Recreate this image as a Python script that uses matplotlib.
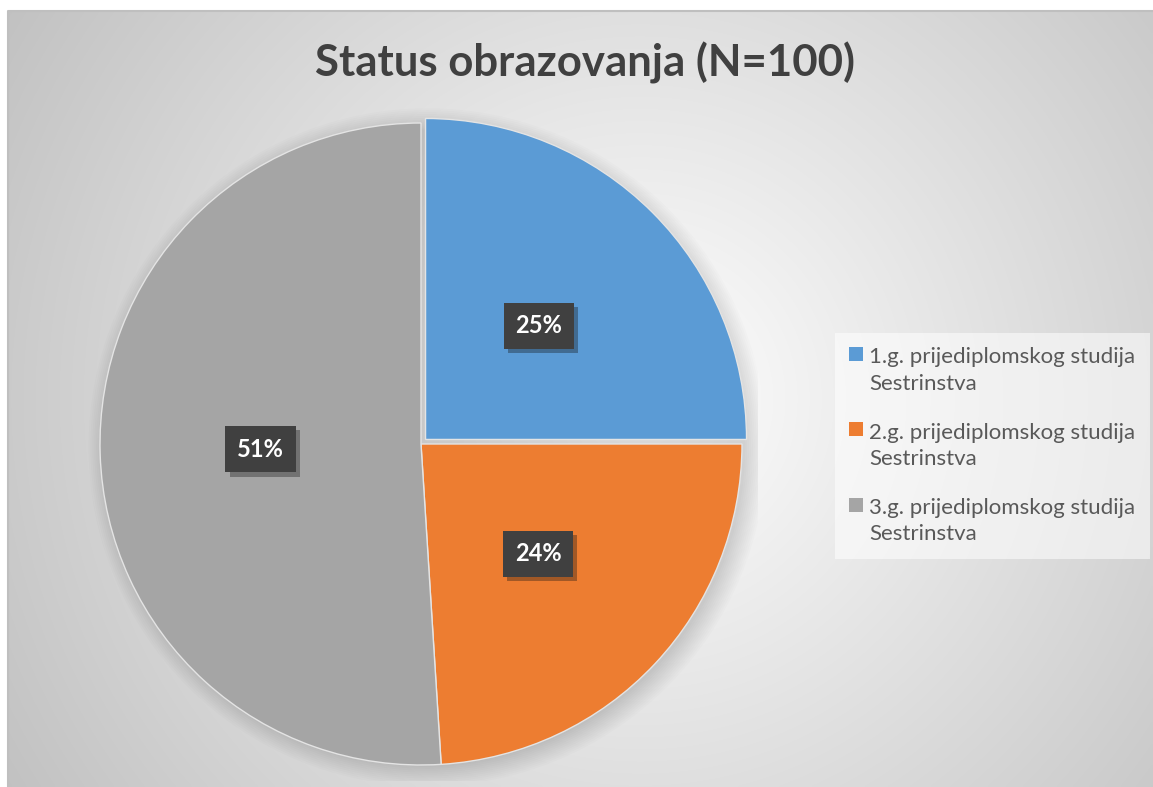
import numpy as np
import matplotlib
matplotlib.use("Agg")
import matplotlib.pyplot as plt
from matplotlib.patches import Rectangle, Circle
from matplotlib.legend_handler import HandlerPatch
import matplotlib.patheffects as pe

plt.rcParams['font.family'] = ['Lato', 'DejaVu Sans']

# podaci
kategorije = ["1.g. prijediplomskog studija\nSestrinstva",
              "2.g. prijediplomskog studija\nSestrinstva",
              "3.g. prijediplomskog studija\nSestrinstva"]
vrijednosti = [25, 24, 51]
boje = ['#5B9BD5', '#ED7D31', '#A5A5A5']
naslov = "Status obrazovanja (N=100)"

W, H = 1153, 787
fig = plt.figure(figsize=(W / 100, H / 100), dpi=100)

# pozadina s radijalnim gradijentom
bg = fig.add_axes([0, 0, 1, 1])
bg.set_xlim(0, W)
bg.set_ylim(H, 0)
bg.axis('off')
x0, x1, y0, y1 = 8, W, 11, H
xx, yy = np.meshgrid(np.linspace(x0, x1, 400), np.linspace(y0, y1, 300))
cx, cy = (x0 + x1) / 2 + 60, (y0 + y1) / 2
d = np.sqrt((xx - cx) ** 2 + (yy - cy) ** 2)
t = d / d.max()
c = 1 - 0.24 * t
img = np.dstack([c, c, c])
bg.imshow(img, extent=(x0, x1, y1, y0), aspect='auto', interpolation='bilinear')
bg.plot([x0, x0, x1], [y1, y0, y0], color='#bfbfbf', lw=1.5)

fig.text(585 / W, 1 - 63 / H, naslov, ha='center', va='center',
         fontsize=31.5, fontweight='bold', color='#404040')

# pita
r_px = 321
cxp, cyp = 421, 444
lim = 1.05
ax = fig.add_axes([(cxp - lim * r_px) / W, (H - cyp - lim * r_px) / H,
                   2 * lim * r_px / W, 2 * lim * r_px / H])

# meka sjena
for i in range(12):
    ax.add_patch(Circle((0.02, -0.01), 0.99 + 0.006 * i, color='k',
                        alpha=0.012, lw=0, zorder=0))

wedges, texts, autotexts = ax.pie(
    vrijednosti, colors=boje, startangle=90, counterclock=False,
    explode=[0.02, 0, 0], autopct=lambda p: f'{p:.0f}%', pctdistance=0.5,
    wedgeprops=dict(edgecolor='#e4e4e4', linewidth=1.0),
    textprops=dict(color='white', fontsize=17, fontweight='bold'),
    frame=True)
ax.set_xlim(-lim, lim)
ax.set_ylim(-lim, lim)
ax.axis('off')
for w in wedges:
    w.set_zorder(2)
for at in autotexts:
    at.set_zorder(5)
    at.set_bbox(dict(boxstyle='square,pad=0.5', fc='#404040', ec='none'))
    at.get_bbox_patch().set_path_effects(
        [pe.SimplePatchShadow(offset=(3, -3), alpha=0.35), pe.Normal()])


class GoreHandler(HandlerPatch):
    def create_artists(self, legend, orig_handle, xdescent, ydescent,
                       width, height, fontsize, trans):
        p = Rectangle((-xdescent, -ydescent + 0.75 * fontsize), width, height,
                      facecolor=orig_handle.get_facecolor(), lw=0,
                      transform=trans)
        return [p]


ruc = [Rectangle((0, 0), 1, 1, facecolor=b) for b in boje]
leg = fig.legend(ruc, kategorije, loc='upper left',
                 bbox_to_anchor=(835 / W, 1 - 333 / H), borderaxespad=0,
                 fontsize=16, frameon=True, fancybox=False,
                 handlelength=0.6, handleheight=0.6, handletextpad=0.3,
                 labelspacing=1.3, borderpad=0.65,
                 handler_map={Rectangle: GoreHandler()})
leg.get_frame().set_facecolor('#ffffff')
leg.get_frame().set_alpha(0.55)
leg.get_frame().set_edgecolor('none')
for tx in leg.get_texts():
    tx.set_color('#595959')
    tx.set_linespacing(1.4)

fig.savefig('out.png', dpi=100)
